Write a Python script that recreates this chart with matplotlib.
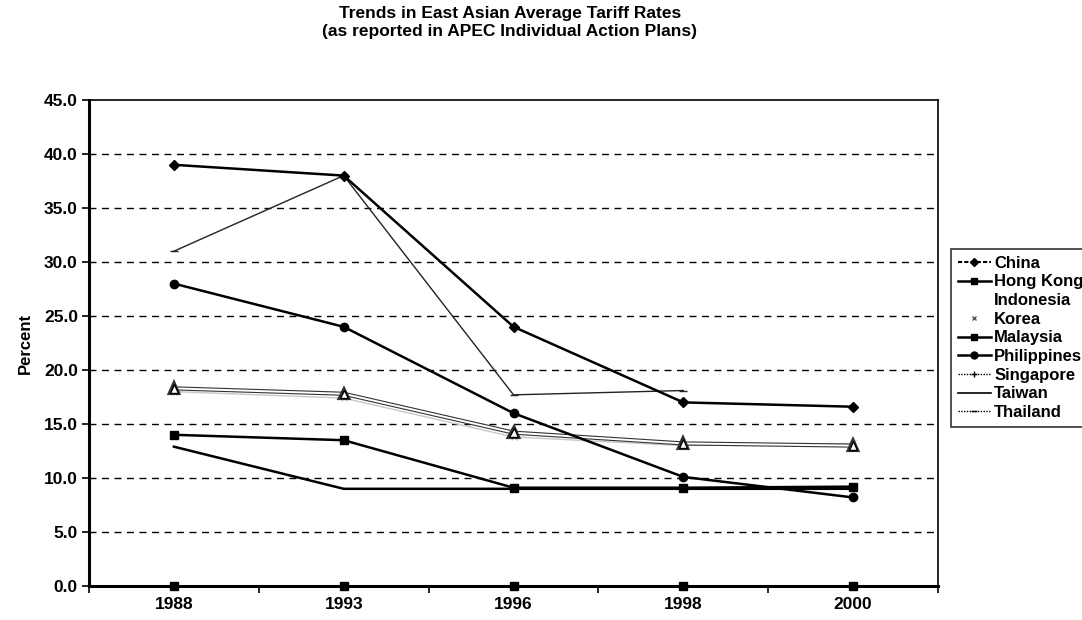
import matplotlib
matplotlib.use("Agg")
import matplotlib.pyplot as plt
import matplotlib.patheffects as pe
from matplotlib.lines import Line2D
import numpy as np

plt.rcParams['font.family'] = ['Liberation Sans', 'DejaVu Sans']

years = ['1988', '1993', '1996', '1998', '2000']
china = [39.0, 38.0, 24.0, 17.0, 16.6]
hong_kong = [0.0, 0.0, 0.0, 0.0, 0.0]
indonesia = [18.3, 17.8, 14.2, 13.2, 13.0]
korea = [18.0, 17.4, 13.8, 13.0, 13.2]
malaysia = [14.0, 13.5, 9.1, 9.1, 9.2]
philippines = [28.0, 24.0, 16.0, 10.1, 8.2]
singapore = [0.0, 0.0, 0.0, 0.0, 0.0]
taiwan = [12.9, 9.0, 9.0, 9.0, 9.0]
thailand = [31.0, 38.0, 17.7, 18.1, np.nan]

title = "Trends in East Asian Average Tariff Rates\n(as reported in APEC Individual Action Plans)"
ylabel = "Percent"
yticks = [0, 5, 10, 15, 20, 25, 30, 35, 40, 45]

fig = plt.figure(figsize=(10.82, 6.2), dpi=100)
ax = fig.add_axes([89/1082, 1 - 586/620, (938-89)/1082, (586-100)/620])

x = np.arange(len(years))

for v in yticks[1:-1]:
    ax.axhline(v, color='black', lw=1.0, ls=(0, (5, 4)), zorder=1)

# light series (rendered as outlines in the scan)
ax.plot(x, korea, color='#c8c8c8', lw=1.0, marker='x', ms=4, zorder=2)
ax.plot(x, indonesia, color='white', lw=1.4, marker='^', ms=6, mfc='white', mec='black', mew=1.0,
        path_effects=[pe.Stroke(linewidth=3.0, foreground='#333333'), pe.Normal()], zorder=3)

ax.plot(x, taiwan, color='black', lw=1.8, zorder=4)
ax.plot(x, malaysia, color='black', lw=1.8, marker='s', ms=6, zorder=4)
ax.plot(x, philippines, color='black', lw=1.8, marker='o', ms=6, zorder=4)
ax.plot(x, thailand, color='#222222', lw=1.0, marker='_', ms=6, zorder=4)
ax.plot(x, china, color='black', lw=1.8, marker='D', ms=5, zorder=5)
ax.plot(x, hong_kong, color='black', lw=1.8, marker='s', ms=6, zorder=5, clip_on=False)
ax.plot(x, singapore, color='black', lw=1.0, marker='+', ms=6, zorder=5, clip_on=False)

ax.set_xlim(-0.5, len(years) - 0.5)
ax.set_ylim(0, 45)
ax.set_yticks(yticks)
ax.set_yticklabels([f"{v:.1f}" for v in yticks], fontsize=12.5, fontweight='bold')
ax.set_xticks(x)
ax.set_xticklabels(years, fontsize=12.5, fontweight='bold')
ax.tick_params(axis='x', length=0, pad=8)
ax.set_xticks(np.arange(-0.5, len(years)), minor=True)
ax.tick_params(axis='x', which='minor', length=5, width=1.2, direction='out')
ax.tick_params(axis='y', length=5, width=1.2, direction='out', pad=3)
for s in ['left', 'bottom']:
    ax.spines[s].set_linewidth(2.2)
for s in ['top', 'right']:
    ax.spines[s].set_linewidth(1.2)

ax.set_ylabel(ylabel, fontsize=12, fontweight='bold', labelpad=8)
fig.suptitle(title, x=510/1082, y=0.99, fontsize=12.5, fontweight='bold', linespacing=1.25)

handles = [
    Line2D([], [], color='black', lw=1.5, ls=(0, (2, 1)), marker='D', ms=4),
    Line2D([], [], color='black', lw=1.8, marker='s', ms=5),
    Line2D([], [], color='none', lw=1.0),
    Line2D([], [], color='none', marker='x', ms=3, mec='#555555'),
    Line2D([], [], color='black', lw=1.8, marker='s', ms=5),
    Line2D([], [], color='black', lw=1.8, marker='o', ms=5),
    Line2D([], [], color='black', lw=1.0, ls=(0, (1, 1)), marker='+', ms=5),
    Line2D([], [], color='black', lw=1.2),
    Line2D([], [], color='black', lw=1.0, ls=(0, (1, 1)), marker='_', ms=5),
]
labels = ['China', 'Hong Kong', 'Indonesia', 'Korea', 'Malaysia', 'Philippines',
          'Singapore', 'Taiwan', 'Thailand']
leg = fig.legend(handles, labels, loc='center left', bbox_to_anchor=(951/1082, 0.455),
                 fontsize=12, frameon=True, fancybox=False, edgecolor='black',
                 handlelength=2.0, handletextpad=0.2, labelspacing=0.22, borderpad=0.4,
                 borderaxespad=0)
leg.get_frame().set_linewidth(1.2)
for t in leg.get_texts():
    t.set_fontweight('bold')

fig.savefig('out.png', dpi=100, facecolor='white')
